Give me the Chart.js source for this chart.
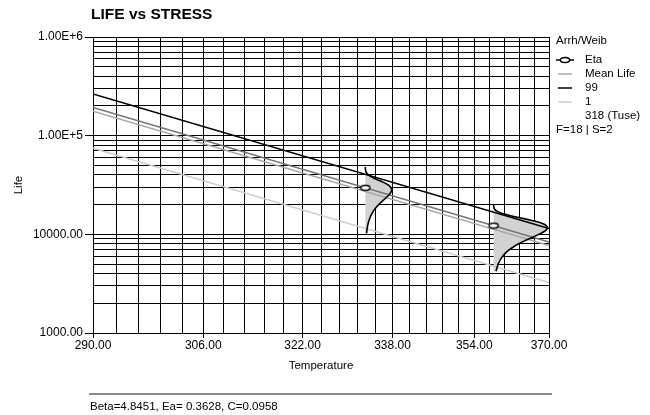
<!DOCTYPE html>
<html>
<head>
<meta charset="utf-8">
<title>Life vs Stress</title>
<script src="https://cdn.jsdelivr.net/npm/chart.js@4.4.1/dist/chart.umd.min.js"></script>
<style>
	html, body { margin: 0; padding: 0; background: #fff; }
	#wrap { width: 650px; height: 415px; }
</style>
</head>
<body>
<div id="wrap"><canvas id="chart" width="650" height="415"></canvas></div>
<script>
// fitted Arrhenius-Weibull lines, life at both ends of the temperature range
const lineTemps = [290, 370];
const etaLife = [193322, 8376];
const meanLife = [177337, 7683];
const life99 = [264957, 11479];
const life1 = [74810, 3241];

// test temperatures and the eta found at each of them
const stressTemps = [333, 358];
const stressEta = [29655, 12265];

// weibull pdf profile: t/eta and eta*f(t), laid sideways at each test temperature
const pdfRatio = [0.345, 0.4, 0.45, 0.5, 0.55, 0.6, 0.65, 0.7, 0.75, 0.8, 0.85, 0.9, 0.95, 1.0, 1.05, 1.1, 1.15, 1.2, 1.25, 1.3, 1.35, 1.4, 1.45, 1.5, 1.55, 1.62];
const pdfDensity = [0.080, 0.141, 0.220, 0.325, 0.460, 0.625, 0.817, 1.029, 1.251, 1.463, 1.646, 1.773, 1.824, 1.782, 1.647, 1.430, 1.158, 0.870, 0.599, 0.376, 0.212, 0.107, 0.048, 0.018, 0.006, 0.001];
const pdfScale = 78500;

// axes
const xTicks = [290, 306, 322, 338, 354, 370];
const xGridStep = 3.2;
const yTicks = [1000, 10000, 100000, 1000000];
const yTickLabels = ["1000.00", "10000.00", "1.00E+5", "1.00E+6"];

const legendTitle = "Arrh/Weib";
const legendLabels = ["Eta", "Mean Life", "99", "1", "318 (Tuse)"];
const legendNote = "F=18 | S=2";
const footerText = "Beta=4.8451, Ea= 0.3628, C=0.0958";

const family = "'Liberation Sans', Arial, sans-serif";
const colors = {eta: "#747474", mean: "#a8a8a8", p99: "#000", p1: "#cdcdcd", pdf: "#d2d2d2"};

Chart.defaults.font.family = family;
Chart.defaults.color = "#000";

// x position is linear in 1/T, the way an Arrhenius plot is laid out
class ArrheniusScale extends Chart.LinearScale {
	getPixelForValue(value) {
		const a = 1 / this.min, b = 1 / this.max;
		return this.getPixelForDecimal((a - 1 / value) / (a - b));
	}
	getValueForPixel(pixel) {
		const a = 1 / this.min, b = 1 / this.max;
		return 1 / (a - this.getDecimalForPixel(pixel) * (a - b));
	}
}
ArrheniusScale.id = "arrhenius";
ArrheniusScale.defaults = Chart.LinearScale.defaults;
Chart.register(ArrheniusScale);

// open ellipse used for the eta points
const etaMarker = document.createElement("canvas");
etaMarker.width = 12;
etaMarker.height = 8;
(function() {
	const c = etaMarker.getContext("2d");
	c.beginPath();
	c.ellipse(6, 4, 4.6, 2.5, 0, 0, Math.PI * 2);
	c.fillStyle = "#fff";
	c.fill();
	c.lineWidth = 1.4;
	c.strokeStyle = "#000";
	c.stroke();
})();

const lineSet = function(values, color) {
	return {
		data: lineTemps.map((t, i) => ({x: t, y: values[i]})),
		showLine: true, borderColor: color, borderWidth: 1.5,
		pointRadius: 0, fill: false
	};
}
const pdfCurve = function(temp, eta) {
	return pdfRatio.map((r, i) => ({x: temp + pdfScale * pdfDensity[i] / eta, y: r * eta}));
}
const pdfShape = function(temp, eta) {
	return [{x: temp, y: pdfRatio[0] * eta}, ...pdfCurve(temp, eta), {x: temp, y: pdfRatio[pdfRatio.length - 1] * eta}];
}

const datasets = [
	{
		data: stressTemps.map((t, i) => ({x: t, y: stressEta[i]})),
		pointStyle: etaMarker, pointRadius: 5, showLine: false
	},
	...stressTemps.map((t, i) => ({
		data: pdfCurve(t, stressEta[i]),
		showLine: true, borderColor: "#000", borderWidth: 1.6,
		pointRadius: 0, tension: 0.3, fill: false
	})),
	lineSet(life99, colors.p99),
	lineSet(etaLife, colors.eta),
	lineSet(meanLife, colors.mean),
	lineSet(life1, colors.p1),
	...stressTemps.map((t, i) => ({
		data: pdfShape(t, stressEta[i]),
		showLine: true, borderWidth: 0, borderColor: "rgba(0,0,0,0)",
		backgroundColor: colors.pdf, fill: "shape",
		pointRadius: 0, tension: 0.3
	}))
];

// title, legend box and the parameter footer
const annotate = {
	id: "annotate",
	afterDraw(chart) {
		const ctx = chart.ctx;
		ctx.save();
		ctx.fillStyle = "#000";
		ctx.textBaseline = "middle";
		ctx.font = "bold 15.5px " + family;
		ctx.fillText("LIFE vs STRESS", 91, 15);

		ctx.font = "11.5px " + family;
		ctx.fillText(legendTitle, 556, 41);
		const swatch = ["#000", colors.mean, colors.p99, colors.p1, null];
		legendLabels.forEach(function(label, i) {
			const y = 60 + i * 14;
			if (swatch[i]) {
				ctx.strokeStyle = swatch[i];
				ctx.lineWidth = 1.5;
				ctx.beginPath();
				ctx.moveTo(i == 0 ? 556 : 558, y);
				ctx.lineTo(i == 0 ? 574 : 572, y);
				ctx.stroke();
			}
			if (i == 0) ctx.drawImage(etaMarker, 559, y - 4);
			ctx.fillText(label, 585, y);
		});
		ctx.fillText(legendNote, 556, 130);

		ctx.strokeStyle = "#8a8a8a";
		ctx.lineWidth = 2;
		ctx.beginPath();
		ctx.moveTo(89, 394);
		ctx.lineTo(552, 394);
		ctx.stroke();
		ctx.fillText(footerText, 90, 407);
		ctx.restore();
	}
};

const sameValue = (a, b) => Math.abs(a - b) < 1e-6;

new Chart(document.getElementById("chart").getContext("2d"), {
	type: "scatter",
	data: {datasets: datasets},
	plugins: [annotate],
	options: {
		responsive: false,
		animation: false,
		events: [],
		layout: {padding: {left: 0, right: 101, top: 37, bottom: 42}},
		plugins: {legend: {display: false}, tooltip: {enabled: false}, title: {display: false}},
		scales: {
			x: {
				type: "arrhenius",
				min: 290,
				max: 370,
				afterBuildTicks: function(scale) {
					const ticks = [];
					for (let k = 0; k <= 25; k++) ticks.push({value: 290 + k * xGridStep});
					scale.ticks = ticks;
				},
				afterFit: function(scale) { scale.height = 40; },
				ticks: {
					autoSkip: false, maxRotation: 0, padding: 0,
					font: {size: 12},
					callback: (v) => xTicks.some(t => sameValue(t, v)) ? v.toFixed(2) : ""
				},
				grid: {
					color: "#000", lineWidth: 1, tickLength: 5,
					tickColor: (c) => xTicks.some(t => sameValue(t, c.tick.value)) ? "#000" : "rgba(0,0,0,0)"
				},
				border: {color: "#000", width: 1},
				title: {display: true, text: "Temperature", font: {size: 11.5}, padding: {top: 0, bottom: 0}}
			},
			y: {
				type: "logarithmic",
				min: 1000,
				max: 1000000,
				afterBuildTicks: function(scale) {
					const ticks = [];
					for (let d = 1000; d < 1000000; d *= 10) {
						for (let m = 1; m < 10; m++) ticks.push({value: m * d});
					}
					ticks.push({value: 1000000});
					scale.ticks = ticks;
				},
				afterFit: function(scale) { scale.width = 93; },
				ticks: {
					autoSkip: false, padding: 2,
					font: {size: 12},
					callback: (v) => {
						const i = yTicks.indexOf(v);
						return i >= 0 ? yTickLabels[i] : "";
					}
				},
				grid: {
					color: "#000", lineWidth: 1, tickLength: 8,
					tickColor: (c) => yTicks.includes(c.tick.value) ? "#000" : "rgba(0,0,0,0)"
				},
				border: {color: "#000", width: 1},
				title: {display: true, text: "Life", font: {size: 11.5}, padding: {top: 12, bottom: 0}}
			}
		}
	}
});
</script>
</body>
</html>
